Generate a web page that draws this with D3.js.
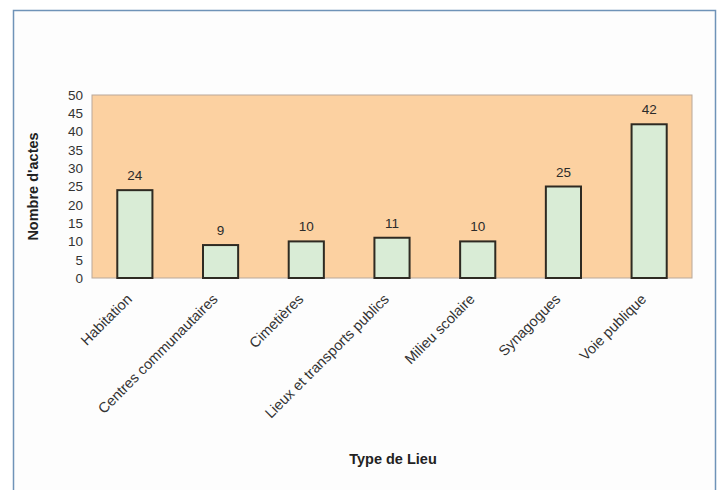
<!DOCTYPE html>
<html>
<head>
<meta charset="utf-8">
<script src="https://cdn.jsdelivr.net/npm/d3@7"></script>
<style>
  html, body { margin: 0; padding: 0; background: #ffffff; }
  svg { display: block; }
</style>
</head>
<body>
<svg id="chart" width="721" height="490"></svg>
<script>
// Number of acts by type of place
const categories = [
  "Habitation",
  "Centres communautaires",
  "Cimetières",
  "Lieux et transports publics",
  "Milieu scolaire",
  "Synagogues",
  "Voie publique"
];
const values = [24, 9, 10, 11, 10, 25, 42];
const yTicks = [0, 5, 10, 15, 20, 25, 30, 35, 40, 45, 50];

const svg = d3.select("#chart");
const font = "Arial, 'Liberation Sans', sans-serif";

// outer frame
svg.append("rect")
  .attr("x", 13.5).attr("y", 10.5)
  .attr("width", 702).attr("height", 490)
  .attr("fill", "#fdfdfd")
  .attr("stroke", "#6f93b8").attr("stroke-width", 1.5);

const plot = { left: 92, top: 95, right: 692, bottom: 278 };

const x = d3.scaleBand()
  .domain(categories)
  .range([plot.left, plot.right])
  .paddingInner(0.59).paddingOuter(0.295);

const y = d3.scaleLinear()
  .domain([0, 50])
  .range([plot.bottom, plot.top]);

// plot background
svg.append("rect")
  .attr("x", plot.left).attr("y", plot.top)
  .attr("width", plot.right - plot.left).attr("height", plot.bottom - plot.top)
  .attr("fill", "#fcd1a1")
  .attr("stroke", "#b9a89a").attr("stroke-width", 1);

// bars
svg.append("g").selectAll("rect")
  .data(values)
  .join("rect")
  .attr("x", (d, i) => x(categories[i]))
  .attr("y", d => y(d))
  .attr("width", x.bandwidth())
  .attr("height", d => y(0) - y(d))
  .attr("fill", "#d9ecd6")
  .attr("stroke", "#2e2a22").attr("stroke-width", 2);

// value labels
svg.append("g").selectAll("text")
  .data(values)
  .join("text")
  .attr("x", (d, i) => x(categories[i]) + x.bandwidth() / 2)
  .attr("y", d => y(d) - 10)
  .attr("text-anchor", "middle")
  .attr("font-family", font).attr("font-size", 13.5)
  .attr("fill", "#2b2b2b")
  .text(d => d);

// y axis
const yAxis = svg.append("g")
  .attr("transform", `translate(${plot.left},0)`)
  .call(d3.axisLeft(y).tickValues(yTicks).tickSize(0).tickPadding(9));
yAxis.select(".domain").remove();
yAxis.selectAll("text")
  .attr("font-family", font).attr("font-size", 13.5)
  .attr("fill", "#333");

// x axis labels, rotated
const xAxis = svg.append("g")
  .attr("transform", `translate(0,${plot.bottom})`)
  .call(d3.axisBottom(x).tickSize(0).tickPadding(0));
xAxis.select(".domain").remove();
xAxis.selectAll("text")
  .attr("font-family", font).attr("font-size", 14.5)
  .attr("fill", "#333")
  .attr("text-anchor", "end")
  .attr("dy", null)
  .attr("transform", "translate(-2,22) rotate(-45)");

// axis titles
svg.append("text")
  .attr("transform", `translate(38,${(plot.top + plot.bottom) / 2}) rotate(-90)`)
  .attr("text-anchor", "middle")
  .attr("font-family", font).attr("font-size", 14.5).attr("font-weight", "bold")
  .attr("fill", "#222")
  .text("Nombre d'actes");

svg.append("text")
  .attr("x", 393).attr("y", 464)
  .attr("text-anchor", "middle")
  .attr("font-family", font).attr("font-size", 14.5).attr("font-weight", "bold")
  .attr("fill", "#222")
  .text("Type de Lieu");
</script>
</body>
</html>
